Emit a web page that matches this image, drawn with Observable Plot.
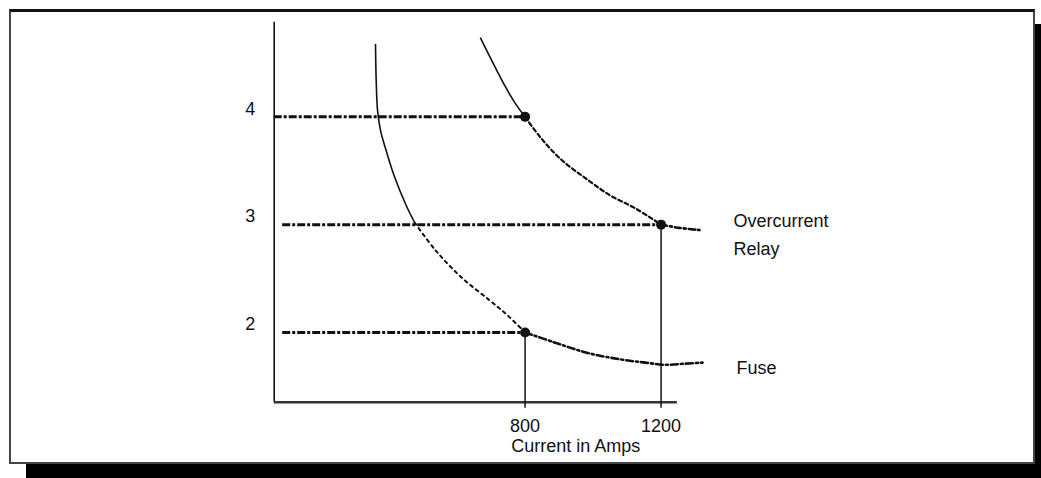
<!DOCTYPE html>
<html><head><meta charset="utf-8">
<script src="https://cdn.jsdelivr.net/npm/d3@7"></script>
<script src="https://cdn.jsdelivr.net/npm/@observablehq/plot@0.6"></script>
<style>
html,body{margin:0;padding:0;background:#fff;}
#wrap{position:relative;width:1041px;height:478px;overflow:hidden;}
#box{position:absolute;left:9px;top:9px;width:1022px;height:450px;border:2px solid #444;border-top:3px solid #111;background:#fff;box-shadow:17px 15px 0 #000;}
#chart{position:absolute;left:0;top:0;}
</style></head><body>
<div id="wrap"><div id="box"></div><div id="chart"></div></div>
<script>
// ---- data ----
const xTicks = [800, 1200];
const yTicks = [2, 3, 4];
const xTitle = "Current in Amps";

// Fuse time-current curve
const fuseCurrent = [360, 362, 366, 375, 391, 414, 450, 475, 537, 613, 695, 748, 800, 884, 984, 1081, 1154, 1213, 1269, 1322];
const fuseTime    = [4.67, 4.34, 4.06, 3.87, 3.69, 3.46, 3.18, 3.02, 2.76, 2.51, 2.30, 2.16, 2.00, 1.91, 1.81, 1.75, 1.72, 1.70, 1.71, 1.72];
// Overcurrent relay curve
const relayCurrent = [669, 704, 742, 772, 800, 845, 904, 978, 1051, 1125, 1200, 1254, 1313];
const relayTime    = [4.73, 4.51, 4.28, 4.12, 4.00, 3.81, 3.61, 3.43, 3.27, 3.15, 3.00, 2.97, 2.95];

// operating points
const opCurrent = [800, 1200, 800];
const opTime    = [4, 3, 2];
const guideFrom = [62, 87, 87];   // where each horizontal guide starts
const dropIdx   = [1, 2];         // points with a vertical drop line

const seriesNames = ["Overcurrent\nRelay", "Fuse"];

// ---- build tables ----
const xDomain = [62, 1248];
const yDomain = [1.353, 4.878];

function seg(xs, ys, a, b) {
  const out = [];
  for (let i = a; i <= b; i++) out.push({x: xs[i], y: ys[i]});
  return out;
}
const fuseSolid  = seg(fuseCurrent, fuseTime, 0, 7);
const fuseDotted = seg(fuseCurrent, fuseTime, 7, 12);
const fuseDash   = seg(fuseCurrent, fuseTime, 12, fuseCurrent.length - 1);
const relaySolid  = seg(relayCurrent, relayTime, 0, 4);
const relayDotted = seg(relayCurrent, relayTime, 4, 10);
const relayDash   = seg(relayCurrent, relayTime, 10, relayCurrent.length - 1);

const ops = opCurrent.map((c, i) => ({x: c, y: opTime[i], from: guideFrom[i]}));
const drops = dropIdx.map(i => ops[i]);
const ends = [
  {x: relayCurrent[relayCurrent.length - 1], y: relayTime[relayTime.length - 1], name: seriesNames[0]},
  {x: fuseCurrent[fuseCurrent.length - 1], y: fuseTime[fuseTime.length - 1], name: seriesNames[1]}
];

const curve = "catmull-rom";
const ink = "#111";
const chart = Plot.plot({
  width: 1041,
  height: 478,
  marginLeft: 273.7,
  marginRight: 364.1,
  marginTop: 21.7,
  marginBottom: 76.3,
  x: {domain: xDomain, axis: null},
  y: {domain: yDomain, axis: null},
  style: {background: "transparent", fontFamily: "'Liberation Sans', Arial, sans-serif", fontSize: "18px", color: ink, overflow: "visible"},
  marks: [
    // axes lines
    Plot.ruleX([xDomain[0]], {stroke: ink, strokeWidth: 1.6}),
    Plot.ruleY([yDomain[0]], {stroke: "#333", strokeWidth: 2.5}),
    Plot.axisX(xTicks, {tickSize: 6, tickPadding: 11, label: null, fontSize: 18, strokeWidth: 1.5, stroke: ink, tickFormat: d => String(d)}),
    Plot.axisY(yTicks, {tickSize: 0, tickPadding: 19, dy: -8, label: null, fontSize: 18, tickFormat: d => String(d)}),
    Plot.text([xTitle], {frameAnchor: "bottom", dx: 100, dy: 50, fontSize: 18, fill: ink}),
    // guides
    Plot.ruleY(ops, {y: "y", x1: "from", x2: "x", stroke: ink, strokeWidth: 3, strokeDasharray: "8,2,3,2"}),
    Plot.ruleX(drops, {x: "x", y1: "y", y2: yDomain[0], stroke: ink, strokeWidth: 1.5}),
    // curves
    Plot.line(fuseSolid, {x: "x", y: "y", curve, stroke: ink, strokeWidth: 1.6}),
    Plot.line(fuseDotted, {x: "x", y: "y", curve, stroke: ink, strokeWidth: 2, strokeDasharray: "3,4"}),
    Plot.line(fuseDash, {x: "x", y: "y", curve, stroke: ink, strokeWidth: 2.6, strokeDasharray: "7,3,2,3"}),
    Plot.line(relaySolid, {x: "x", y: "y", curve, stroke: ink, strokeWidth: 1.6}),
    Plot.line(relayDotted, {x: "x", y: "y", curve, stroke: ink, strokeWidth: 2.2, strokeDasharray: "4,3"}),
    Plot.line(relayDash, {x: "x", y: "y", curve, stroke: ink, strokeWidth: 2.6, strokeDasharray: "6,3,2,3"}),
    // operating points
    Plot.dot(ops, {x: "x", y: "y", r: 5, fill: ink, stroke: "none"}),
    // series labels
    Plot.text(ends, {x: "x", y: "y", text: "name", textAnchor: "start", dx: 34, dy: 2, lineHeight: 1.55, fontSize: 18, fill: ink})
  ]
});
document.getElementById("chart").appendChild(chart);
</script>
</body></html>
